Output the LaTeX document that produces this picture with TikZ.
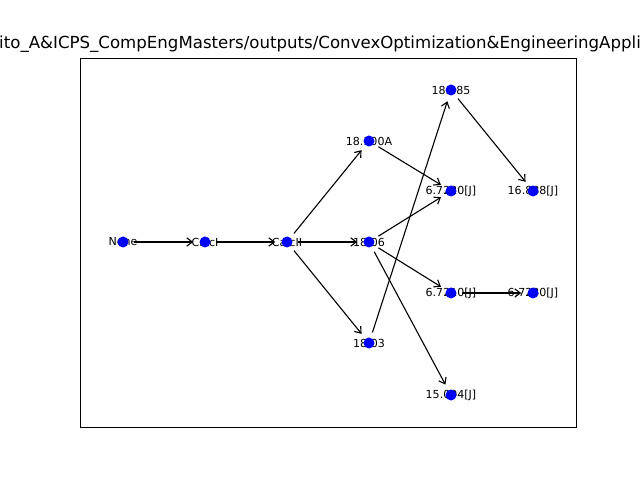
\documentclass[tikz,border=0pt]{standalone}
\usepackage{fontspec}
\setmainfont{DejaVu Sans}
\usetikzlibrary{arrows.meta}

\begin{document}
\begin{tikzpicture}[x=0.254mm,y=-0.254mm]
    % Define the page and the axes frame
    \useasboundingbox (0,0) rectangle (640,480);
    \clip (0,0) rectangle (640,480);
    \draw[line width=0.6pt] (80,58) rectangle (576,427);

    % Define the styles
    \tikzset{
        course dot/.style={fill=blue},
        course label/.style={font=\fontsize{8}{9.6}\selectfont, inner sep=0pt},
        prereq arrow/.style={-{Straight Barb[length=4pt,width=6pt]}, line width=0.8pt, shorten <=2.8mm, shorten >=3mm}
    }

    % Title
    \node[font=\fontsize{12}{14}\selectfont, inner sep=0pt] (title) at (320,44)
        {ito\_A\&ICPS\_CompEngMasters/outputs/ConvexOptimization\&EngineeringAppli};

    % Define the positions of the courses
    \coordinate (none)   at (123,242);
    \coordinate (calcI)  at (205,242);
    \coordinate (calcII) at (287,242);
    \coordinate (c1806)  at (369,242);
    \coordinate (c18100) at (369,141);
    \coordinate (c1803)  at (369,343);
    \coordinate (c18085) at (451,90);
    \coordinate (c67220) at (451,191);
    \coordinate (c67210) at (451,293);
    \coordinate (c15094) at (451,395);
    \coordinate (c16888) at (533,191);
    \coordinate (c67230) at (533,293);

    % Draw the labels
    \node[course label] (lnone)   at (none)   {None};
    \node[course label] (lcalcI)  at (calcI)  {CalcI};
    \node[course label] (lcalcII) at (calcII) {CalcII};
    \node[course label] (l1806)   at (c1806)  {18.06};
    \node[course label] (l18100)  at (c18100) {18.100A};
    \node[course label] (l1803)   at (c1803)  {18.03};
    \node[course label] (l18085)  at (c18085) {18.085};
    \node[course label] (l67220)  at (c67220) {6.7220[J]};
    \node[course label] (l67210)  at (c67210) {6.7210[J]};
    \node[course label] (l15094)  at (c15094) {15.094[J]};
    \node[course label] (l16888)  at (c16888) {16.888[J]};
    \node[course label] (l67230)  at (c67230) {6.7230[J]};

    % Draw the prerequisite arrows
    \draw[prereq arrow] (none) -- (calcI);
    \draw[prereq arrow] (calcI) -- (calcII);
    \draw[prereq arrow] (calcII) -- (c1806);
    \draw[prereq arrow] (calcII) -- (c18100);
    \draw[prereq arrow] (calcII) -- (c1803);
    \draw[prereq arrow] (c18100) -- (c67220);
    \draw[prereq arrow] (c1806) -- (c67220);
    \draw[prereq arrow] (c1806) -- (c67210);
    \draw[prereq arrow] (c1806) -- (c15094);
    \draw[prereq arrow] (c1803) -- (c18085);
    \draw[prereq arrow] (c18085) -- (c16888);
    \draw[prereq arrow] (c67210) -- (c67230);

    % Draw the points
    \foreach \c in {none,calcI,calcII,c1806,c18100,c1803,c18085,c67220,c67210,c15094,c16888,c67230}
        \fill[course dot] (\c) circle (5.5);
\end{tikzpicture}
\end{document}
